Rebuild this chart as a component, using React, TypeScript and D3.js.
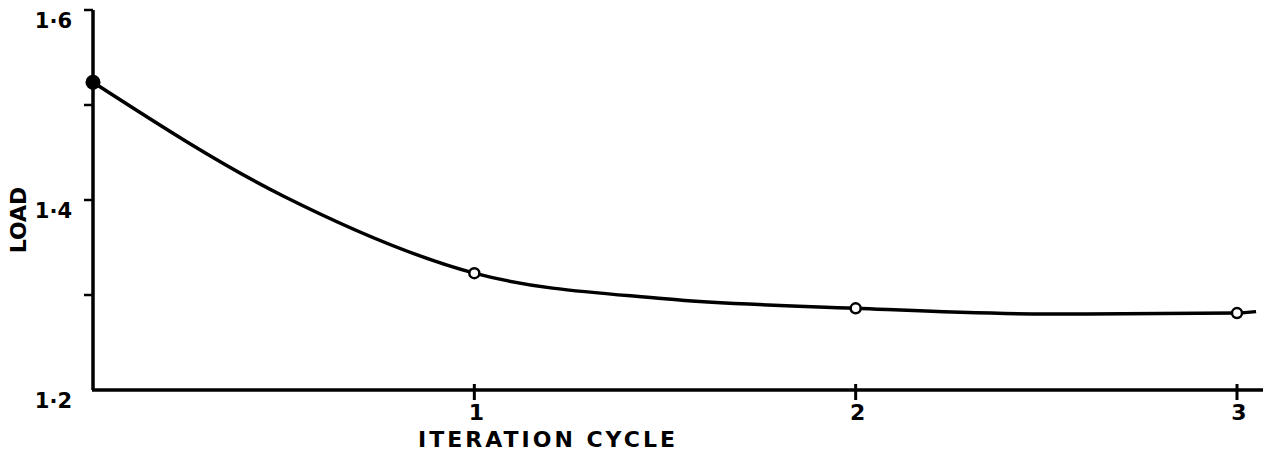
import { useEffect, useRef } from "react";
import * as d3 from "d3";

// measured points (markers)
const cycles = [0, 1, 2, 3];
const loads = [1.524, 1.323, 1.286, 1.281];

// hand-drawn smooth curve
const curveCycles = [0, 0.5, 1, 1.5, 2, 2.5, 3, 3.05];
const curveLoads = [1.524, 1.404, 1.323, 1.296, 1.286, 1.28, 1.281, 1.2825];

const yTicks = [1.2, 1.3, 1.4, 1.5, 1.6];
const yTickLabels = ["1·2", "", "1·4", "", "1·6"];
const xTicks = [1, 2, 3];
const xTickLabels = ["1", "2", "3"];

export default function App() {
  const ref = useRef<SVGSVGElement>(null);

  useEffect(() => {
    const svg = d3.select(ref.current);
    svg.selectAll("*").remove();

    const x = d3.scaleLinear().domain([0, 3]).range([93, 1237]);
    const y = d3.scaleLinear().domain([1.2, 1.6]).range([390, 10]);
    const font = "'DejaVu Sans', sans-serif";

    // axes lines
    svg.append("line")
      .attr("x1", x(0)).attr("x2", x(0))
      .attr("y1", y(1.6)).attr("y2", y(1.2))
      .attr("stroke", "#000").attr("stroke-width", 3.5);
    svg.append("line")
      .attr("x1", x(0) - 1).attr("x2", 1263)
      .attr("y1", y(1.2)).attr("y2", y(1.2))
      .attr("stroke", "#000").attr("stroke-width", 3.5);

    // y ticks
    yTicks.forEach((t, i) => {
      if (t !== 1.2) {
        svg.append("line")
          .attr("x1", x(0) - 9).attr("x2", x(0))
          .attr("y1", y(t)).attr("y2", y(t))
          .attr("stroke", "#000").attr("stroke-width", 2.5);
      }
      if (yTickLabels[i]) {
        svg.append("text")
          .attr("x", 72)
          .attr("y", y(t) + 18)
          .attr("text-anchor", "end")
          .style("font-family", font)
          .style("font-weight", "bold")
          .style("font-size", "21px")
          .text(yTickLabels[i]);
      }
    });

    // x ticks
    xTicks.forEach((t, i) => {
      svg.append("line")
        .attr("x1", x(t)).attr("x2", x(t))
        .attr("y1", y(1.2) - 6).attr("y2", y(1.2) + 10)
        .attr("stroke", "#000").attr("stroke-width", 3);
      svg.append("text")
        .attr("x", x(t) + 2)
        .attr("y", y(1.2) + 30)
        .attr("text-anchor", "middle")
        .style("font-family", font)
        .style("font-weight", "bold")
        .style("font-size", "22px")
        .text(xTickLabels[i]);
    });

    // axis titles
    svg.append("text")
      .attr("x", 548)
      .attr("y", 447)
      .attr("text-anchor", "middle")
      .style("font-family", font)
      .style("font-weight", "bold")
      .style("font-size", "22px")
      .style("letter-spacing", "3px")
      .text("ITERATION CYCLE");

    svg.append("text")
      .attr("transform", "translate(26,220) rotate(-90)")
      .attr("text-anchor", "middle")
      .style("font-family", font)
      .style("font-weight", "bold")
      .style("font-size", "22px")
      .text("LOAD");

    // curve
    const line = d3.line<number>()
      .x((_, i) => x(curveCycles[i]))
      .y(d => y(d))
      .curve(d3.curveMonotoneX);
    svg.append("path")
      .attr("d", line(curveLoads))
      .attr("fill", "none")
      .attr("stroke", "#000")
      .attr("stroke-width", 3.5);

    // markers
    cycles.forEach((c, i) => {
      if (i === 0) {
        svg.append("circle")
          .attr("cx", x(c)).attr("cy", y(loads[i])).attr("r", 7.5)
          .attr("fill", "#000");
      } else {
        svg.append("circle")
          .attr("cx", x(c)).attr("cy", y(loads[i])).attr("r", 5)
          .attr("fill", "#fff")
          .attr("stroke", "#000").attr("stroke-width", 2.5);
      }
    });
  }, []);

  return (
    <svg
      ref={ref}
      width={1274}
      height={467}
      style={{ position: "absolute", left: 0, top: 0, background: "#fff" }}
    />
  );
}
